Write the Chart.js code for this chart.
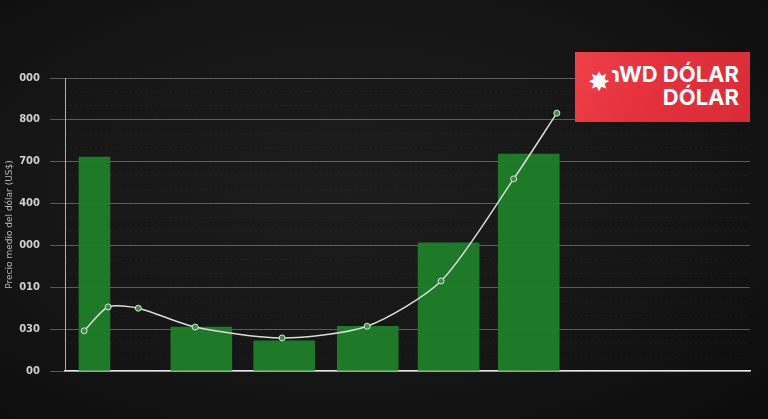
<!DOCTYPE html>
<html>
<head>
<meta charset="utf-8">
<script src="https://cdn.jsdelivr.net/npm/chart.js@4"></script>
<style>
    html, body { margin: 0; padding: 0; }
    body {
        width: 768px; height: 419px; overflow: hidden; position: relative;
        background: radial-gradient(ellipse at 45% 45%, #1d1d1d 0%, #161616 55%, #0c0c0c 100%);
        font-family: Inter, "Open Sans", sans-serif;
    }
    #wrap { position: absolute; left: 0; top: 0; width: 768px; height: 419px; }
    #badge {
        position: absolute; left: 575px; top: 52px; width: 175px; height: 70px;
        background: linear-gradient(115deg, #f0404a 0%, #e5323d 40%, #d92b36 100%);
        color: #fff; font-weight: 700; font-size: 22px; line-height: 23px;
        text-align: right; box-sizing: border-box; padding: 11px 11px 0 0;
    }
    #badge .icon { position: absolute; left: 14px; top: 18px; font-size: 24px; }
</style>
</head>
<body>
<div id="wrap"><canvas id="chart" width="768" height="419"></canvas></div>
<div id="badge"><span class="icon">✸</span>ɿWD DÓLAR<br>DÓLAR</div>
<script>
// Data (x = position along the time axis, y = value)
const yTickLabels = ['00', '030', '010', '000', '400', '700', '800', '000'];
const yTitle = 'Precio medio del dólar (US$)';
const narrowBarX = [4.3];
const narrowBarY = [511];
const barX = [19.9, 32.0, 44.2, 56.0, 67.7];
const barY = [105, 72, 107, 306, 518];
const lineX = [2.8, 6.3, 10.7, 19.0, 31.7, 44.1, 54.9, 65.5, 71.8];
const lineY = [96, 153, 150, 105, 79, 107, 215, 459, 616];

const toPoints = (xs, ys) => xs.map((x, i) => ({ x: x, y: ys[i] }));

const barColor = 'rgba(31, 126, 42, 0.95)';

new Chart(document.getElementById('chart'), {
    type: 'bar',
    data: {
        datasets: [
            {
                type: 'line',
                data: toPoints(lineX, lineY),
                borderColor: '#dcdcdc',
                borderWidth: 1.5,
                tension: 0.25,
                pointRadius: 3,
                pointBackgroundColor: '#3f8a45',
                pointBorderColor: '#d8e8d8',
                pointBorderWidth: 1,
                order: 0
            },
            {
                data: toPoints(narrowBarX, narrowBarY),
                backgroundColor: barColor,
                barThickness: 31,
                stack: 'bars',
                order: 1
            },
            {
                data: toPoints(barX, barY),
                backgroundColor: barColor,
                barThickness: 61,
                stack: 'bars',
                order: 1
            }
        ]
    },
    options: {
        responsive: false,
        animation: false,
        layout: { padding: { top: 78, right: 18, bottom: 48, left: 0 } },
        plugins: { legend: { display: false }, tooltip: { enabled: false } },
        scales: {
            x: {
                type: 'linear',
                min: 0,
                max: 100,
                offset: false,
                ticks: { display: false },
                grid: { display: false },
                border: { color: '#e6e6e6', width: 1.5 },
                afterFit: (scale) => { scale.height = 0; }
            },
            y: {
                min: 0,
                max: 700,
                stacked: false,
                ticks: {
                    stepSize: 100,
                    padding: 10,
                    color: '#cfcfcf',
                    font: { size: 10, weight: 'bold', family: 'DejaVu Sans' },
                    callback: (value) => yTickLabels[Math.round(value / 100)]
                },
                grid: { color: 'rgba(200,200,200,0.38)', tickLength: 15, lineWidth: 1 },
                border: { color: '#b0b0b0' },
                title: {
                    display: true,
                    text: yTitle,
                    color: '#b8b8b8',
                    font: { size: 9, family: 'DejaVu Sans' },
                    padding: { top: 4, bottom: 0 }
                },
                afterFit: (scale) => { scale.width = 65; }
            },
            yMinor: {
                position: 'right',
                min: 0,
                max: 700,
                ticks: { display: false, stepSize: 700 / 21 },
                grid: { color: 'rgba(255,255,255,0.04)', drawTicks: false },
                border: { display: false, dash: [2, 3] },
                afterFit: (scale) => { scale.width = 0; }
            }
        }
    }
});
</script>
</body>
</html>
